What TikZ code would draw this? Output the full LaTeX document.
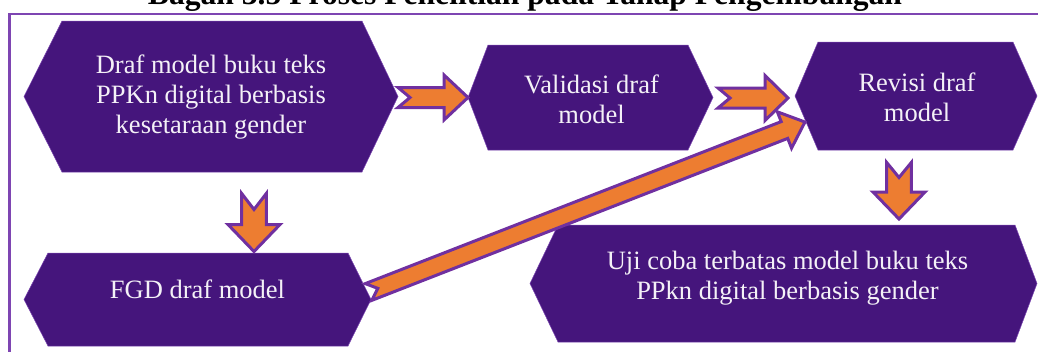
\documentclass[tikz,border=0pt]{standalone}
\usepackage{fontspec}
\setmainfont{Liberation Serif}
\usetikzlibrary{calc}

\definecolor{hexfill}{HTML}{45157C}
\definecolor{hexedge}{HTML}{7A45B0}
\definecolor{framecol}{HTML}{7E45B2}
\definecolor{arrfill}{HTML}{ED7D31}
\definecolor{arredge}{HTML}{7030A0}
\definecolor{hextext}{HTML}{F4F1F7}

\tikzset{
  hexbox/.style={shape=rectangle, inner sep=0pt, outer sep=0pt},
  hexlabel/.style={text=hextext, align=center, inner sep=0pt,
    font=\fontsize{26.5}{30}\selectfont},
  blockarrow/.style={fill=arrfill, draw=arredge, line width=3pt, line join=miter},
  frameline/.style={draw=framecol, line width=2.6pt},
  titletext/.style={font=\bfseries\fontsize{31.6}{36}\selectfont, inner sep=0pt},
}

% Hexagon painted on a box node: #1 node, #2 left point depth, #3 right point depth
\newcommand\hexpaint[3]{%
  \filldraw[fill=hexfill, draw=hexedge, line width=0.5pt]
    ([xshift=#2pt]#1.north west) -- ([xshift=-#3pt]#1.north east) -- (#1.east)
    -- ([xshift=-#3pt]#1.south east) -- ([xshift=#2pt]#1.south west) -- (#1.west) -- cycle;}

% Notched block arrow from #1 (tail) to #2 (tip):
% #3 shaft half width, #4 head half width, #5 head length, #6 notch depth
\newcommand\blockarrowdraw[6]{%
  \path let \p1=(#1), \p2=(#2),
    \n1={atan2(\y2-\y1,\x2-\x1)}, \n2={veclen(\x2-\x1,\y2-\y1)} in
    \pgfextra{\xdef\baAng{\n1}\xdef\baLen{\n2}\xdef\baX{\x1}\xdef\baY{\y1}};
  \draw[blockarrow, shift={(\baX,\baY)}, rotate=\baAng]
    (0pt,#3pt) -- ({\baLen-#5pt},#3pt) -- ({\baLen-#5pt},#4pt)
    -- (\baLen,0pt) -- ({\baLen-#5pt},-#4pt) -- ({\baLen-#5pt},-#3pt)
    -- (0pt,-#3pt) -- (#6pt,0pt) -- cycle;}

\begin{document}
\begin{tikzpicture}[x=1pt, y=-1pt]
  \useasboundingbox (0,0) rectangle (1038,351);

  % heading and outer frame
  \node[titletext, anchor=base] (title) at (525,4.5)
    {Bagan 3.5 Proses Penelitian pada Tahap Pengembangan};
  \draw[frameline] (9.5,14) rectangle (1060,380);

  % stage boxes
  \node[hexbox, minimum width=374pt, minimum height=151pt] (h1) at (211,96.5) {};
  \node[hexbox, minimum width=245pt, minimum height=105pt] (h2) at (590.5,97.5) {};
  \node[hexbox, minimum width=242pt, minimum height=108pt] (h3) at (916,96) {};
  \node[hexbox, minimum width=507pt, minimum height=117pt] (h4) at (783.5,283.5) {};
  \node[hexbox, minimum width=347pt, minimum height=93pt] (h5) at (197.5,299.5) {};

  \hexpaint{h1}{38}{36}
  \hexpaint{h2}{20}{25}
  \hexpaint{h3}{23}{24}
  \hexpaint{h4}{28}{22}
  \hexpaint{h5}{24}{23}

  \node[hexlabel] (t1) at ($(h1.center)+(0,1)$)
    {Draf model buku teks\\PPKn digital berbasis\\kesetaraan gender};
  \node[hexlabel] (t2) at ($(h2.center)+(1,2)$) {Validasi draf\\model};
  \node[hexlabel] (t3) at ($(h3.center)+(1,1)$) {Revisi draf\\model};
  \node[hexlabel] (t4) at ($(h4.center)+(4,-5)$)
    {Uji coba terbatas model buku teks\\PPkn digital berbasis gender};
  \node[hexlabel] (t5) at ($(h5.center)+(0,-10)$) {FGD draf model};

  % arrow ends
  \coordinate (a1s) at (h1.east |- h2.west);
  \coordinate (a1e) at (h2.west);
  \coordinate (a2s) at ($(h2.east)+(5,0.5)$);
  \coordinate (a2e) at ($(h3.west)+(-7,2)$);
  \coordinate (d1s) at ($(h1.south)+(43,21.5)$);
  \coordinate (d1e) at ($(h5.north)+(56.5,-1.5)$);
  \coordinate (d2s) at ($(h3.south)+(-17,12.5)$);
  \coordinate (d2e) at ($(h4.north)+(115.5,-6)$);
  \coordinate (gs) at ($(h5.east)+(-2.5,-7.5)$);
  \coordinate (ge) at ($(h3.west)+(10,26)$);

  \blockarrowdraw{a1s}{a1e}{10}{22.5}{24}{12}
  \blockarrowdraw{a2s}{a2e}{10}{22.5}{23}{12}
  \blockarrowdraw{d1s}{d1e}{12.3}{26}{27}{16}
  \blockarrowdraw{d2s}{d2e}{12.3}{26}{27}{15}
  \blockarrowdraw{gs}{ge}{9}{19.5}{22}{10}
\end{tikzpicture}
\end{document}
